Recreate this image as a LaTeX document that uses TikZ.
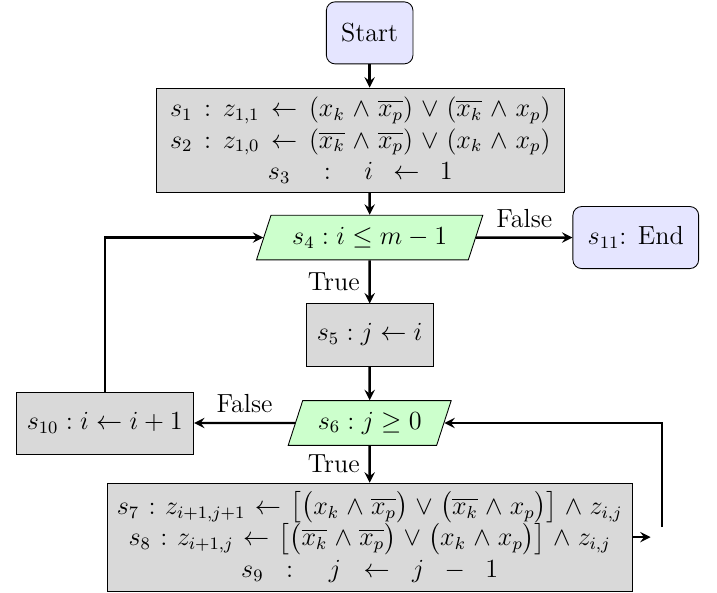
\documentclass[tikz,border=0pt,12pt]{standalone}
\usepackage{amsmath, amssymb}
\usepackage{tikz}
\usetikzlibrary{shapes, arrows.meta, positioning}
\tikzset{
    terminal/.style={rectangle, draw, rounded corners, fill=blue!10, align=center, minimum height=1cm, inner xsep=6.8pt},
    process/.style={rectangle, draw, fill=gray!30, align=center, minimum height=1cm, inner xsep=5pt},
    decision/.style={trapezium, trapezium left angle=72, trapezium right angle=108, draw, fill=green!20, align=center, minimum height=0.72cm, inner xsep=3.5pt},
    arrow/.style={line width=1.1pt, ->, >=stealth}
}
\newcommand{\wider}[2]{\thickmuskip=#1mu plus 5mu\medmuskip=#2mu plus 2mu minus 4mu\relax}

\begin{document}
\begin{tikzpicture}
        \useasboundingbox (0,0) rectangle (11.56,-9.56);
        \node (start) [terminal] at (5.96,-0.53) {Start};
        \node (init) [process, inner xsep=6.4pt] at (5.81,-2.26) {{\wider{8}{5.5}$s_1 : z_{1,1} \leftarrow (x_k \land \overline{x_p}) \lor (\overline{x_k} \land x_p)$}\\ {\wider{8}{5.5}$s_2 : z_{1,0} \leftarrow (\overline{x_k} \land \overline{x_p}) \lor (x_k \land x_p)$}\\ $s_3 \quad : \quad i \enspace \leftarrow \enspace 1$};
        \node (outer) [decision] at (5.96,-3.83) {$s_4 : i \leq m-1$};
        \node (finish) [terminal] at (10.25,-3.83) {$s_{11}$: End};
        \node (setj) [process] at (5.96,-5.40) {$s_5 : j \leftarrow i$};
        \node (inner) [decision] at (5.96,-6.82) {$s_6 : j \geq 0$};
        \node (incr) [process] at (1.69,-6.82) {$s_{10} : i \leftarrow i+1$};
        \node (update) [process, inner xsep=4.5pt] at (5.96,-8.66) {{\wider{6.5}{5}$s_7 : z_{i+1,j+1} \leftarrow \big[\big(x_k \land \overline{x_p}\big) \lor \big(\overline{x_k} \land x_p\big)\big] \land z_{i,j}$}\\ {\wider{6.5}{5}$s_8 : z_{i+1,j} \leftarrow \big[\big(\overline{x_k} \land \overline{x_p}\big) \lor \big(x_k \land x_p\big)\big] \land z_{i,j}$}\\ {\wider{6.5}{5}$s_9 \enspace : \quad j \enspace \leftarrow \enspace j \enspace - \enspace 1$}};

        \coordinate (tip) at (10.49,-8.66);
        \coordinate (back) at (10.67,-8.50);

        \draw [arrow] (start) -- (start |- init.north);
        \draw [arrow] (start |- init.south) -- (outer);
        \draw [arrow] (outer) -- node[above] {False} (finish);
        \draw [arrow] (outer) -- node[left] {True} (setj);
        \draw [arrow] (setj) -- (inner);
        \draw [arrow] (inner) -- node[above] {False} (incr);
        \draw [arrow] (inner) -- node[left] {True} (update);
        \draw [arrow] (incr.north) |- (outer.west);
        \draw [arrow] (update.east) -- (tip);
        \draw [arrow] (back) |- (inner.east);
    \end{tikzpicture}
\end{document}
